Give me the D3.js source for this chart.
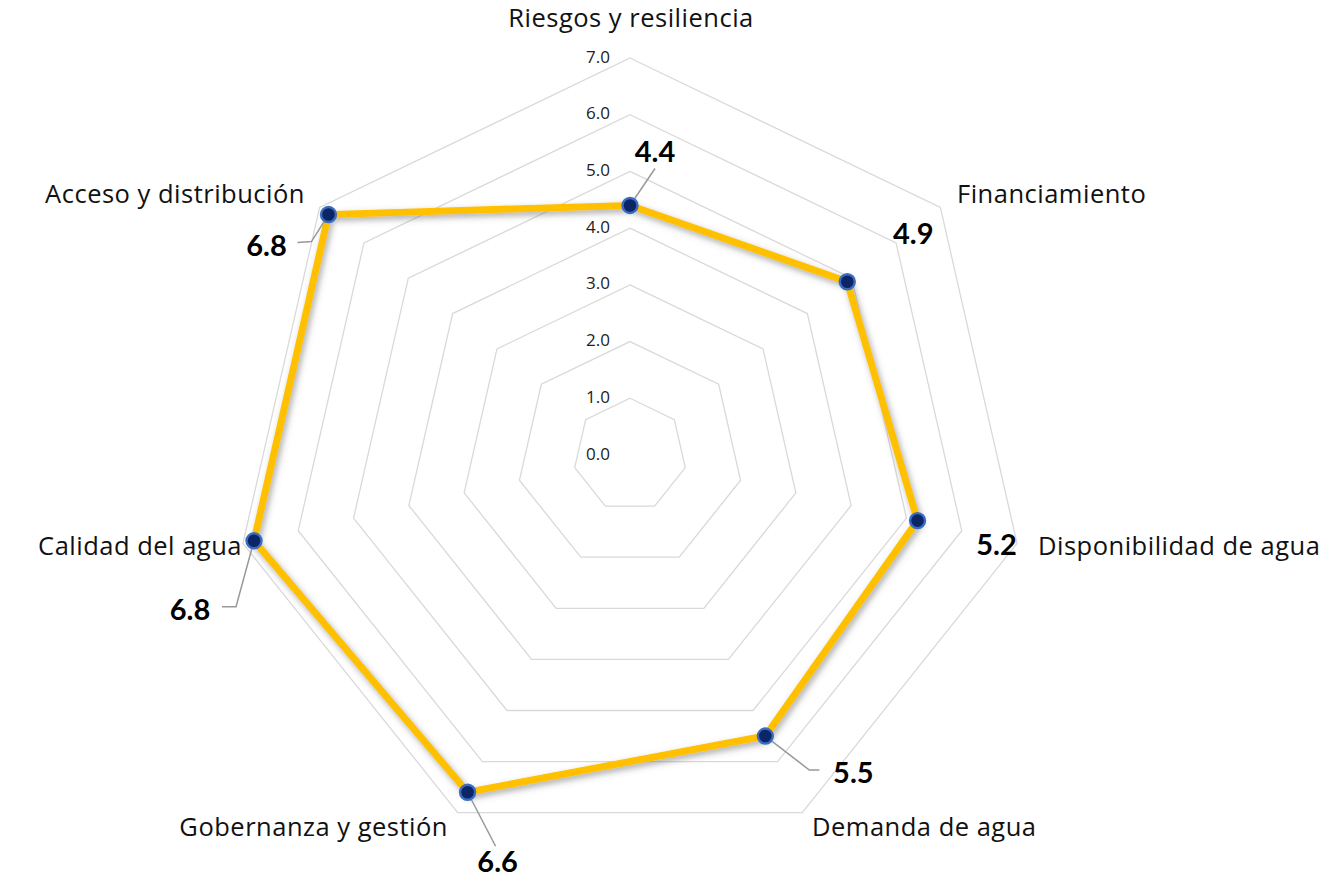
<!DOCTYPE html>
<html>
<head>
<meta charset="utf-8">
<script src="https://cdn.jsdelivr.net/npm/d3@7"></script>
<style>
  body { margin: 0; background: #fff; }
  svg { display: block; }
</style>
</head>
<body>
<svg id="chart" width="1332" height="888"></svg>
<script>
const categories = ["Riesgos y resiliencia", "Financiamiento", "Disponibilidad de agua", "Demanda de agua",
                    "Gobernanza y gestión", "Calidad del agua", "Acceso y distribución"];
const values = [4.4, 4.9, 5.2, 5.5, 6.6, 6.8, 6.8];
const ticks = [0, 1, 2, 3, 4, 5, 6, 7];

const cx = 630, cy = 455;
const rScale = d3.scaleLinear().domain([0, 7]).range([0, 397]);
const angle = i => i * 2 * Math.PI / categories.length;
const pt = (i, v) => [cx + rScale(v) * Math.sin(angle(i)), cy - rScale(v) * Math.cos(angle(i))];

const svg = d3.select("#chart");

const defs = svg.append("defs");
const f = defs.append("filter").attr("id", "shadow").attr("x", "-10%").attr("y", "-10%").attr("width", "120%").attr("height", "120%");
f.append("feDropShadow").attr("dx", 2).attr("dy", 3).attr("stdDeviation", 3)
  .attr("flood-color", "#555").attr("flood-opacity", 0.5);

// grid rings
const ring = v => d3.range(categories.length).map(i => pt(i, v));
svg.append("g").selectAll("polygon").data(ticks.slice(1)).join("polygon")
  .attr("points", d => ring(d).map(p => p.join(",")).join(" "))
  .attr("fill", "none").attr("stroke", "#d9d9d9").attr("stroke-width", 1.3);

// tick labels
svg.append("g").selectAll("text").data(ticks).join("text")
  .attr("x", cx - 20).attr("y", d => cy - rScale(d))
  .attr("text-anchor", "end").attr("dominant-baseline", "middle")
  .style("font-family", "'Open Sans', sans-serif").style("font-size", "17px").attr("fill", "#222")
  .text(d => d.toFixed(1));

// category labels
const catPos = [
  {x: 631, y: 20, anchor: "middle"},
  {x: 957, y: 196, anchor: "start"},
  {x: 1038, y: 548, anchor: "start"},
  {x: 812, y: 829, anchor: "start"},
  {x: 448, y: 829, anchor: "end"},
  {x: 242, y: 548, anchor: "end"},
  {x: 305, y: 196, anchor: "end"}
];
svg.append("g").selectAll("text").data(categories).join("text")
  .attr("x", (d, i) => catPos[i].x).attr("y", (d, i) => catPos[i].y)
  .attr("text-anchor", (d, i) => catPos[i].anchor).attr("dominant-baseline", "middle")
  .style("font-family", "'Open Sans', sans-serif").style("font-size", "25.5px")
  .style("letter-spacing", "0.5px").attr("fill", "#111")
  .text(d => d);

// series line
const line = d3.line().curve(d3.curveLinearClosed);
const pts = values.map((v, i) => pt(i, v));
svg.append("path").attr("d", line(pts))
  .attr("fill", "none").attr("stroke", "#FFC000").attr("stroke-width", 7)
  .attr("stroke-linejoin", "miter").attr("filter", "url(#shadow)");

// leader lines (offsets from point: elbow, end)
const lblOff = [[25, -55], [66, -49], [79, 23], [88, 35], [30, 68], [-64, 68], [-62, 30]];
const leaders = [
  [[25, -37]],
  null,
  null,
  [[44, 34], [54, 34]],
  [[28, 54]],
  [[-18, 66], [-32, 66]],
  [[-17, 27], [-31, 28]]
];
const seg = d3.line();
svg.append("g").selectAll("path").data(values).join("path")
  .attr("d", (d, i) => leaders[i] ? seg([pts[i], ...leaders[i].map(o => [pts[i][0] + o[0], pts[i][1] + o[1]])]) : null)
  .attr("fill", "none").attr("stroke", "#999").attr("stroke-width", 1.5);

// markers
svg.append("g").selectAll("circle").data(values).join("circle")
  .attr("cx", (d, i) => pts[i][0]).attr("cy", (d, i) => pts[i][1]).attr("r", 7.5)
  .attr("fill", "#0b2566").attr("stroke", "#3a6cc0").attr("stroke-width", 2.4);

// data labels
svg.append("g").selectAll("text").data(values).join("text")
  .attr("x", (d, i) => pts[i][0] + lblOff[i][0]).attr("y", (d, i) => pts[i][1] + lblOff[i][1])
  .attr("text-anchor", "middle").attr("dominant-baseline", "central")
  .style("font-family", "Lato, sans-serif").style("font-size", "29px").style("font-weight", "bold").attr("fill", "#000")
  .text(d => d.toFixed(1));
</script>
</body>
</html>
